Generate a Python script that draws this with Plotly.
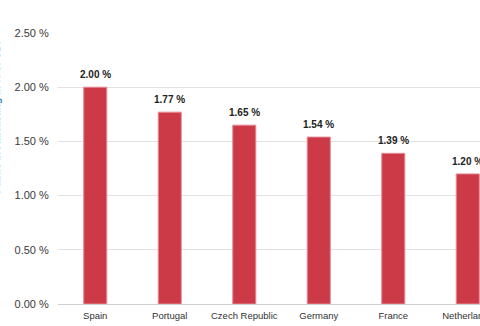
import plotly.graph_objects as go

countries = ["Spain", "Portugal", "Czech Republic", "Germany", "France", "Netherlands"]
values = [2.00, 1.77, 1.65, 1.54, 1.39, 1.20]
y_ticks = [0, 0.5, 1.0, 1.5, 2.0, 2.5]
y_title = "Public broadcasting in % of GDP"

fig = go.Figure()
fig.add_trace(go.Bar(
    x=countries, y=values,
    marker=dict(color="#cd3a47", line=dict(color="#e58f99", width=1)),
    width=0.31,
    hoverinfo="skip",
    cliponaxis=True,
))

for c, v in zip(countries, values):
    fig.add_annotation(x=c, y=v, text="<b>%.2f %%</b>" % v, showarrow=False,
                       yanchor="bottom", yshift=5,
                       font=dict(family="Liberation Sans, Arial", size=10, color="#222"))

fig.add_annotation(xref="paper", yref="paper", x=(4 - 58) / 422, y=0.694,
                   xanchor="right", yanchor="middle", textangle=-90,
                   text="<b>" + y_title + "</b>", showarrow=False,
                   font=dict(family="Liberation Sans, Arial", size=10, color="#3d7ab8"))

fig.update_layout(
    width=480, height=326,
    margin=dict(l=58, r=0, t=33, b=22),
    paper_bgcolor="white", plot_bgcolor="white",
    showlegend=False,
    font=dict(family="Liberation Sans, Arial", color="#333"),
    xaxis=dict(range=[-0.5, 5.164], autorange=False, automargin=False,
               showgrid=False, showline=False, zeroline=False,
               ticks="outside", ticklen=3, tickcolor="rgba(0,0,0,0)",
               tickfont=dict(size=9.5, color="#333")),
    yaxis=dict(range=[0, 2.5], autorange=False, automargin=False,
               tickvals=y_ticks, ticktext=["%.2f %%" % t for t in y_ticks],
               showgrid=True, gridcolor="#e2e2e2", gridwidth=1,
               zeroline=True, zerolinecolor="#cfcfcf", zerolinewidth=1,
               ticks="outside", ticklen=6, tickcolor="rgba(0,0,0,0)",
               tickfont=dict(size=11, color="#3a3a3a")),
)

fig.write_html("out.html")
